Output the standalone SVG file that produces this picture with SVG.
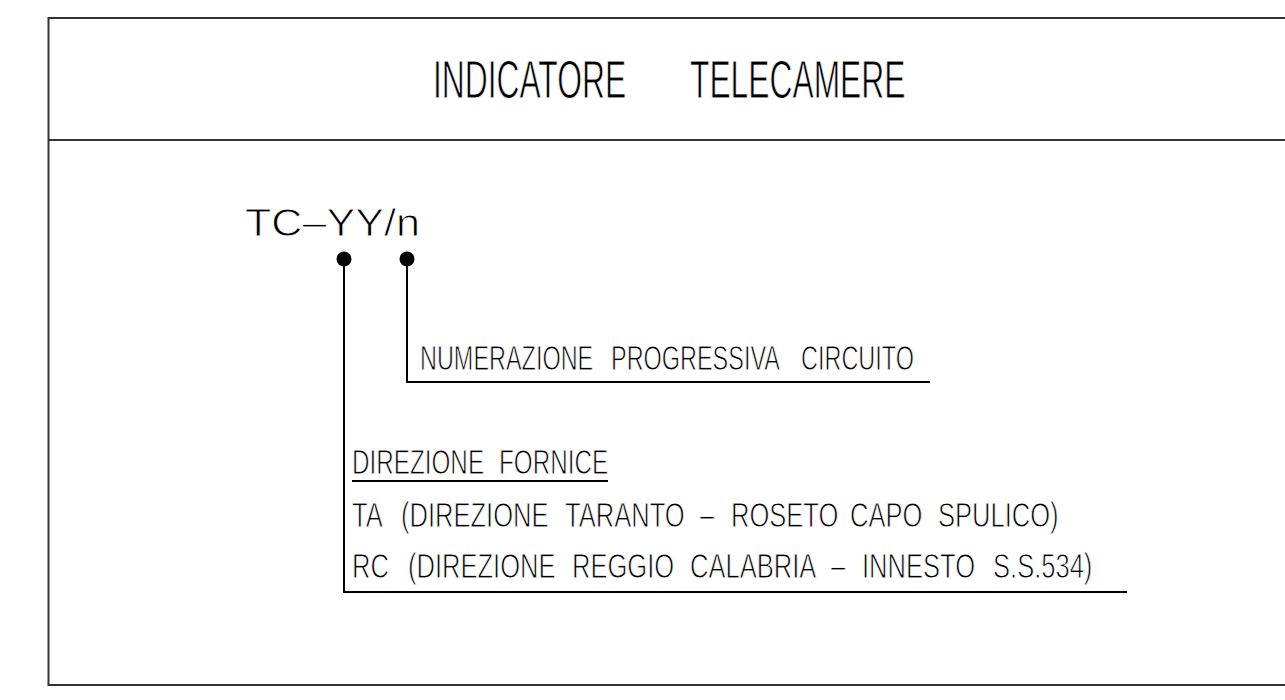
<svg xmlns="http://www.w3.org/2000/svg" width="1285" height="700" viewBox="0 0 1285 700">
<style>
.frame{fill:none;stroke:#333;stroke-width:2}
.ln{fill:none;stroke:#000;stroke-width:2}
.dot{fill:#000}
text{font-family:"Liberation Sans",Arial,sans-serif;fill:#000;stroke:#fff;stroke-width:0.9px}
.t{font-size:53px}
.m{font-size:39px}
.s{font-size:35px}
</style>
<rect width="1285" height="700" fill="#fff"/>
<g id="frame">
<path class="frame" d="M1290,18 H48.5 V685 H1290"/>
<path class="frame" d="M48.5,140 H1290"/>
</g>
<g id="title">
<text class="t" transform="matrix(0.6,0,0,1,433,98)"><tspan x="0">INDICATORE</tspan> <tspan x="428.3">TELECAMERE</tspan></text>
</g>
<g id="code">
<text class="m" x="245" y="236" textLength="175" lengthAdjust="spacingAndGlyphs">TC–YY/n</text>
</g>
<g id="connectors">
<circle class="dot" cx="344" cy="259" r="7.5"/>
<circle class="dot" cx="407" cy="259" r="7.5"/>
<path class="ln" d="M407,259 V382 H930"/>
<path class="ln" d="M344,259 V592 H1127"/>
<path class="ln" d="M352,481 H608"/>
</g>
<g id="numerazione">
<text class="s" transform="matrix(0.67,0,0,1,420,370)"><tspan x="0">NUMERAZIONE</tspan> <tspan x="285.1">PROGRESSIVA</tspan> <tspan x="568.7">CIRCUITO</tspan></text>
</g>
<g id="direzione">
<text class="s" transform="matrix(0.693,0,0,1,352,474)"><tspan x="0">DIREZIONE</tspan> <tspan x="212.1">FORNICE</tspan></text>
<text class="s" transform="matrix(0.73,0,0,1,352,527)"><tspan x="0">TA</tspan> <tspan x="67.1">(DIREZIONE</tspan> <tspan x="291.8">TARANTO</tspan> <tspan x="476.7">–</tspan> <tspan x="519.2">ROSETO</tspan> <tspan x="682.2">CAPO</tspan> <tspan x="802.7">SPULICO)</tspan></text>
<text class="s" transform="matrix(0.73,0,0,1,352,578)"><tspan x="0">RC</tspan> <tspan x="76.7">(DIREZIONE</tspan> <tspan x="301.4">REGGIO</tspan> <tspan x="463">CALABRIA</tspan> <tspan x="656.2">–</tspan> <tspan x="698.6">INNESTO</tspan> <tspan x="878.1">S.S.534)</tspan></text>
</g>
</svg>
